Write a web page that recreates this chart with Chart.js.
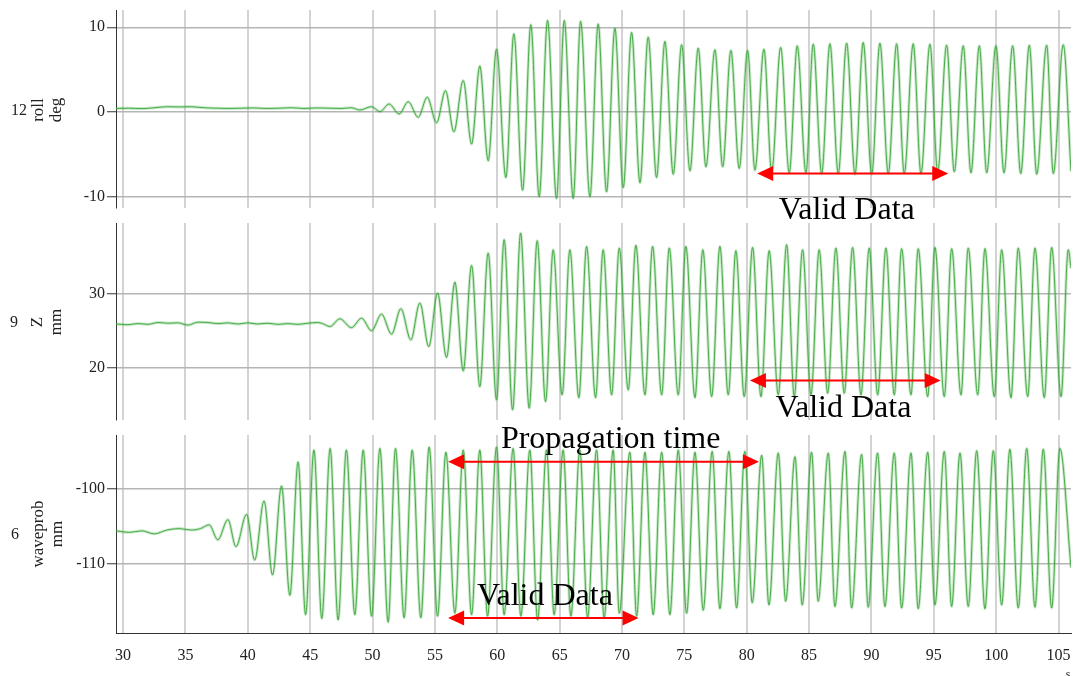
<!DOCTYPE html>
<html>
<head>
<meta charset="utf-8">
<script src="https://cdn.jsdelivr.net/npm/chart.js@4.4.1/dist/chart.umd.min.js"></script>
<style>
  html, body { margin: 0; padding: 0; background: #fff; }
  #wrap { position: relative; width: 1073px; height: 676px; overflow: hidden; }
  #wrap canvas { position: absolute; left: 0; top: 0; }
</style>
</head>
<body>
<div id="wrap">
  <canvas id="roll-chart" width="1073" height="676"></canvas>
  <canvas id="z-chart" width="1073" height="676"></canvas>
  <canvas id="wave-chart" width="1073" height="676"></canvas>
</div>
<script>
// --- Data ---
const xTicks = [30, 35, 40, 45, 50, 55, 60, 65, 70, 75, 80, 85, 90, 95, 100, 105];
const rollTicks = [-10, 0, 10];
const zTicks = [20, 30];
const waveTicks = [-110, -100];

// roll (deg)
const rollT = [29.43, 30.5, 31.5, 32.5, 33.5, 34.5, 35.5, 36.5, 37.5, 38.5, 39.5, 40.5, 41.5, 42.5, 43.5, 44.5, 45.5, 46.5, 47.5, 48.3,
  48.98, 49.92, 50.59, 51.33, 52.13, 52.86, 53.66, 54.38, 55.13, 55.85, 56.52, 57.27, 57.94, 58.6, 59.27, 59.94, 60.69, 61.33, 62.03, 62.69,
  63.36, 64.03, 64.75, 65.37, 66.09, 66.68, 67.43, 68.09, 68.76, 69.43, 70.1, 70.77, 71.44, 72.1, 72.77, 73.44, 74.11, 74.78, 75.45, 76.11,
  76.73, 77.45, 78.07, 78.73, 79.4, 80.07, 80.66, 81.38, 82.0, 82.72, 83.41, 84.05, 84.75, 85.33, 86.01, 86.67, 87.34, 88.01, 88.68, 89.34,
  90.02, 90.68, 91.35, 92.02, 92.63, 93.35, 93.97, 94.69, 95.31, 96.03, 96.64, 97.36, 97.98, 98.65, 99.24, 99.98, 100.63, 101.32, 101.97, 102.66,
  103.25, 104.05, 104.58, 105.38, 106.0];
const rollV = [0.42, 0.45, 0.4, 0.5, 0.62, 0.6, 0.62, 0.5, 0.45, 0.42, 0.45, 0.48, 0.42, 0.45, 0.5, 0.42, 0.48, 0.45, 0.42, 0.5,
  0.24, 0.63, 0.04, 0.95, -0.24, 1.22, -0.63, 1.74, -1.26, 2.52, -2.33, 3.71, -3.79, 5.44, -5.76, 7.42, -7.73, 9.23, -9.23, 10.3,
  -10.0, 10.8, -10.2, 10.8, -10.2, 10.7, -10.0, 10.4, -9.43, 9.9, -8.91, 9.39, -8.36, 8.84, -7.73, 8.32, -7.34, 7.93, -6.95, 7.54,
  -6.47, 7.34, -6.47, 7.26, -6.66, 7.26, -6.86, 7.42, -7.06, 7.61, -7.18, 7.81, -7.18, 8.01, -7.26, 8.05, -7.26, 8.13, -7.34, 8.2,
  -7.34, 8.13, -7.26, 8.05, -7.26, 8.05, -7.26, 8.01, -7.06, 7.89, -7.06, 7.81, -7.18, 7.81, -7.18, 7.81, -7.18, 7.81, -7.26, 7.89,
  -7.34, 7.89, -7.26, 7.93, -7.0];

// Z (mm)
const zT = [29.43, 30.3, 31.2, 32.0, 32.8, 33.6, 34.4, 35.2, 36.0, 36.8, 37.6, 38.4, 39.2, 40.0, 40.8, 41.6, 42.4, 43.2, 44.0, 44.8, 45.6, 46.0,
  46.58, 47.38, 48.31, 49.12, 49.92, 50.72, 51.52, 52.27, 53.07, 53.79, 54.51, 55.21, 55.93, 56.6, 57.27, 57.94, 58.6, 59.27, 59.94, 60.55,
  61.23, 61.87, 62.56, 63.2, 63.87, 64.48, 65.2, 65.82, 66.54, 67.16, 67.88, 68.49, 69.17, 69.78, 70.5, 71.11, 71.84, 72.45, 73.18, 73.79,
  74.51, 75.12, 75.85, 76.48, 77.19, 77.85, 78.52, 79.13, 79.8, 80.47, 81.14, 81.8, 82.53, 83.2, 83.81, 84.48, 85.15, 85.81, 86.49, 87.15,
  87.82, 88.49, 89.16, 89.82, 90.5, 91.16, 91.83, 92.42, 93.17, 93.75, 94.51, 95.09, 95.84, 96.43, 97.18, 97.76, 98.52, 99.1, 99.85, 100.44,
  101.19, 101.77, 102.53, 103.11, 103.86, 104.45, 105.2, 105.78, 106.0];
const zV = [25.95, 25.85, 26.0, 25.9, 26.15, 26.05, 26.1, 25.8, 26.2, 26.15, 26.0, 26.1, 25.95, 26.1, 25.95, 26.05, 25.9, 26.0, 25.9, 26.05, 26.15, 26.0,
  25.6, 26.65, 25.45, 26.74, 25.02, 27.29, 24.57, 28.0, 23.8, 28.78, 22.89, 30.14, 21.4, 31.63, 19.59, 33.88, 17.46, 35.56, 15.66, 37.37,
  14.3, 38.28, 14.53, 37.23, 15.43, 36.0, 16.34, 36.0, 15.97, 36.46, 15.97, 36.0, 16.34, 36.24, 17.0, 36.6, 16.34, 36.46, 16.34, 36.24,
  16.34, 36.46, 15.97, 36.0, 16.11, 36.46, 16.34, 35.88, 16.11, 36.32, 16.11, 35.88, 16.34, 36.69, 16.11, 36.0, 16.34, 36.0, 16.57, 36.24,
  16.57, 36.32, 16.34, 36.24, 16.34, 36.24, 16.34, 36.15, 16.34, 36.15, 16.11, 36.32, 16.11, 36.15, 16.34, 36.24, 16.34, 36.15, 16.11, 36.0,
  15.97, 36.24, 16.11, 36.24, 15.97, 36.32, 16.11, 36.0, 33.5];

// waveprob (mm)
const waveT = [29.43, 30.5, 31.5, 32.5, 33.5, 34.5, 35.5, 36.2, 36.9, 37.6, 38.4, 39.05, 39.9, 40.55, 41.3, 41.98, 42.7, 43.37, 44.03, 44.63,
  45.3, 45.93, 46.6, 47.24, 47.9, 48.58, 49.25, 49.92, 50.59, 51.25, 51.84, 52.53, 53.18, 53.87, 54.54, 55.21, 55.88, 56.6, 57.27, 57.94,
  58.6, 59.22, 59.94, 60.55, 61.27, 61.89, 62.61, 63.23, 63.95, 64.56, 65.28, 65.9, 66.62, 67.24, 67.96, 68.57, 69.29, 69.78, 70.63, 71.17,
  71.84, 72.5, 73.18, 73.84, 74.51, 75.18, 75.85, 76.51, 77.23, 77.85, 78.57, 79.19, 79.85, 80.44, 81.2, 81.78, 82.53, 83.12, 83.87, 84.45,
  85.2, 85.73, 86.54, 87.07, 87.88, 88.41, 89.21, 89.74, 90.49, 91.08, 91.83, 92.42, 93.17, 93.75, 94.51, 95.09, 95.84, 96.43, 97.1, 97.76,
  98.44, 99.1, 99.77, 100.44, 101.1, 101.77, 102.45, 103.11, 103.78, 104.45, 105.11, 106.0];
const waveV = [-105.6, -105.8, -105.6, -106.0, -105.5, -105.3, -105.5, -105.3, -104.8, -106.8, -104.1, -107.7, -103.4, -109.5, -101.6, -111.5, -99.6, -114.2, -96.4, -116.8,
  -94.8, -117.3, -94.6, -117.5, -94.8, -116.8, -94.8, -117.0, -94.6, -117.8, -94.6, -117.2, -94.8, -117.2, -94.4, -117.0, -95.1, -116.6, -94.8, -116.8,
  -94.8, -117.0, -94.4, -116.8, -94.6, -117.0, -94.8, -117.5, -94.8, -116.8, -94.8, -117.0, -94.8, -117.2, -94.8, -117.2, -94.8, -116.6, -95.1, -117.0,
  -95.1, -116.8, -95.1, -116.8, -94.8, -116.6, -95.1, -116.2, -95.0, -116.0, -95.0, -115.9, -95.0, -115.2, -95.5, -115.5, -95.2, -115.0, -95.7, -115.5,
  -95.1, -115.0, -95.2, -115.7, -95.0, -115.9, -95.4, -115.8, -95.2, -115.7, -95.2, -115.9, -95.2, -116.0, -95.1, -115.5, -95.0, -115.7, -95.2, -115.7,
  -94.9, -116.0, -94.9, -115.5, -94.7, -115.9, -94.6, -115.8, -94.7, -115.9, -94.6, -110.5];

const SERIF = '"Liberation Serif", "Times New Roman", serif';

// draws red arrows, big captions and the channel labels on the left
const marksPlugin = {
  id: 'marks',
  afterDatasetsDraw(chart, args, opts) {
    const ctx = chart.ctx;
    const xs = chart.scales.x;
    const ys = chart.scales.y;
    ctx.save();
    (opts.arrows || []).forEach(a => {
      const x0 = xs.getPixelForValue(a.from);
      const x1 = xs.getPixelForValue(a.to);
      const y = ys.getPixelForValue(a.at);
      ctx.strokeStyle = '#ff0000';
      ctx.fillStyle = '#ff0000';
      ctx.lineWidth = 2;
      ctx.beginPath();
      ctx.moveTo(x0 + 12, y);
      ctx.lineTo(x1 - 12, y);
      ctx.stroke();
      ctx.beginPath();
      ctx.moveTo(x0, y);
      ctx.lineTo(x0 + 16, y - 7.5);
      ctx.lineTo(x0 + 16, y + 7.5);
      ctx.closePath();
      ctx.fill();
      ctx.beginPath();
      ctx.moveTo(x1, y);
      ctx.lineTo(x1 - 16, y - 7.5);
      ctx.lineTo(x1 - 16, y + 7.5);
      ctx.closePath();
      ctx.fill();
    });
    ctx.fillStyle = '#000';
    ctx.font = '32px ' + SERIF;
    ctx.textAlign = 'center';
    ctx.textBaseline = 'alphabetic';
    (opts.captions || []).forEach(c => {
      ctx.fillText(c.text, xs.getPixelForValue(c.x), ys.getPixelForValue(c.y));
    });
    // channel labels
    const s = opts.side;
    if (s) {
      ctx.fillStyle = '#222';
      ctx.font = '16px ' + SERIF;
      ctx.textBaseline = 'middle';
      ctx.fillText(s.num, s.numX, s.cy + 1);
      ctx.font = '17px ' + SERIF;
      s.lines.forEach((t, i) => {
        ctx.save();
        ctx.translate(s.lineX[i], s.cy);
        ctx.rotate(-Math.PI / 2);
        ctx.fillText(t, 0, 0);
        ctx.restore();
      });
    }
    if (opts.unit) {
      ctx.font = '12px ' + SERIF;
      ctx.fillStyle = '#222';
      ctx.fillText(opts.unit, 1068, 675);
    }
    ctx.restore();
  }
};

function toPoints(ts, vs) {
  return ts.map((t, i) => ({ x: t, y: vs[i] }));
}

function makePanel(id, p) {
  const pts = toPoints(p.t, p.v);
  return new Chart(document.getElementById(id), {
    type: 'line',
    data: {
      datasets: [
        { data: pts, borderColor: 'rgba(70,175,70,0.3)', borderWidth: 3, pointRadius: 0, cubicInterpolationMode: 'monotone' },
        { data: pts, borderColor: '#34a034', borderWidth: 0.9, pointRadius: 0, cubicInterpolationMode: 'monotone' }
      ]
    },
    options: {
      responsive: false,
      animation: false,
      events: [],
      layout: { padding: { top: p.top, bottom: p.bottom, left: 0, right: 2 } },
      plugins: {
        legend: { display: false },
        tooltip: { enabled: false },
        marks: { arrows: p.arrows, captions: p.captions, side: p.side, unit: p.unit }
      },
      scales: {
        x: {
          type: 'linear',
          min: 29.43,
          max: 106.0,
          afterBuildTicks: s => { s.ticks = xTicks.map(v => ({ value: v })); },
          afterFit: s => {
            s.height = p.last ? 43 : 0;
            s.paddingLeft = 0;
            s.paddingRight = 0;
          },
          grid: { color: '#d3d3d3', lineWidth: 2, drawTicks: false },
          border: { display: !!p.last, color: '#333', width: 1 },
          ticks: {
            display: !!p.last, padding: 13, maxRotation: 0, autoSkip: false,
            font: { family: SERIF, size: 16 }, color: '#222'
          }
        },
        y: {
          min: p.min,
          max: p.max,
          afterBuildTicks: s => { s.ticks = p.ticks.map(v => ({ value: v })); },
          afterFit: s => {
            s.width = 116;
            s.paddingTop = 0;
            s.paddingBottom = 0;
          },
          grid: { color: '#b5b5b5', lineWidth: 1.5, tickLength: 9, tickColor: '#333', tickWidth: 1 },
          border: { color: '#333', width: 1 },
          ticks: { padding: 2, font: { family: SERIF, size: 16 }, color: '#222' }
        }
      }
    },
    plugins: [marksPlugin]
  });
}

makePanel('roll-chart', {
  t: rollT, v: rollV, ticks: rollTicks, min: -11.33, max: 12.04, top: 10, bottom: 468,
  arrows: [{ from: 80.84, to: 96.16, at: -7.25 }],
  captions: [{ text: 'Valid Data', x: 88.02, y: -12.63 }],
  side: { num: '12', numX: 19, lines: ['roll', 'deg'], lineX: [39, 57], cy: 110 }
});

makePanel('z-chart', {
  t: zT, v: zV, ticks: zTicks, min: 12.94, max: 39.63, top: 223, bottom: 256,
  arrows: [{ from: 80.26, to: 95.55, at: 18.28 }],
  captions: [{ text: 'Valid Data', x: 87.75, y: 13.35 }],
  side: { num: '9', numX: 14, lines: ['Z', 'mm'], lineX: [38, 57], cy: 322 }
});

makePanel('wave-chart', {
  t: waveT, v: waveV, ticks: waveTicks, min: -119.24, max: -92.8, top: 435, bottom: 0, last: true,
  arrows: [{ from: 56.06, to: 80.98, at: -96.36 }, { from: 56.06, to: 71.33, at: -117.24 }],
  captions: [{ text: 'Propagation time', x: 69.09, y: -94.57 }, { text: 'Valid Data', x: 63.82, y: -115.47 }],
  side: { num: '6', numX: 15, lines: ['waveprob', 'mm'], lineX: [39, 58], cy: 534 },
  unit: 's'
});
</script>
</body>
</html>
